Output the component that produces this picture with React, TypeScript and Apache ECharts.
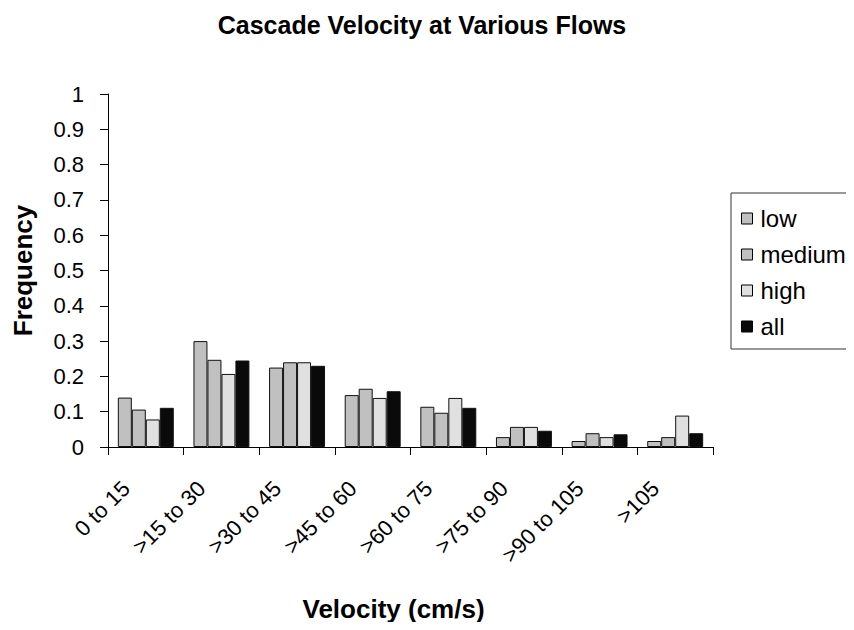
import React, { useEffect, useRef } from "react";
import * as echarts from "echarts";

const categories = ["0 to 15", ">15 to 30", ">30 to 45", ">45 to 60", ">60 to 75", ">75 to 90", ">90 to 105", ">105"];
const lowValues = [0.14, 0.3, 0.225, 0.147, 0.114, 0.028, 0.017, 0.017];
const mediumValues = [0.106, 0.247, 0.24, 0.165, 0.097, 0.057, 0.039, 0.028];
const highValues = [0.078, 0.207, 0.24, 0.139, 0.139, 0.057, 0.028, 0.089];
const allValues = [0.111, 0.245, 0.23, 0.158, 0.111, 0.046, 0.036, 0.039];
const seriesNames = ["low", "medium", "high", "all"];
const seriesColors = ["#c0c0c0", "#c0c0c0", "#e0e0e0", "#0a0a0a"];

const FONT = "'Liberation Sans', Arial, sans-serif";

export default function App() {
  const ref = useRef<HTMLDivElement>(null);
  useEffect(() => {
    if (!ref.current) return;
    const chart = echarts.init(ref.current, undefined, { renderer: "svg" });
    const data = [lowValues, mediumValues, highValues, allValues];
    chart.setOption({
      animation: false,
      backgroundColor: "#ffffff",
      textStyle: { fontFamily: FONT },
      title: {
        text: "Cascade Velocity at Various Flows",
        left: 422,
        textAlign: "center",
        top: 12,
        padding: 0,
        textStyle: { fontFamily: FONT, fontSize: 25, fontWeight: "bold", color: "#000" },
      },
      legend: {
        orient: "vertical",
        left: 731,
        top: 193,
        padding: [13, 60, 10, 10],
        itemGap: 11,
        itemWidth: 11,
        itemHeight: 11,
        borderColor: "#333",
        borderWidth: 1,
        icon: "rect",
        itemStyle: { borderColor: "#000", borderWidth: 1 },
        textStyle: { fontFamily: FONT, fontSize: 24, color: "#000", padding: [0, 0, 0, 3], lineHeight: 25 },
        data: seriesNames,
      },
      grid: { left: 108, right: 141, top: 94, bottom: 183, containLabel: false },
      xAxis: {
        type: "category",
        data: categories,
        name: "Velocity (cm/s)",
        nameLocation: "middle",
        nameGap: 149,
        nameTextStyle: { fontFamily: FONT, fontSize: 26, fontWeight: "bold", color: "#000", padding: [0, 34, 0, 0] },
        axisLine: { lineStyle: { color: "#000", width: 1 } },
        axisTick: { show: true, length: 8, lineStyle: { color: "#000" } },
        axisLabel: { rotate: 45, fontFamily: FONT, fontSize: 22, color: "#000", margin: 18, padding: [0, 28, 0, 0], interval: 0 },
      },
      yAxis: {
        type: "value",
        min: 0,
        max: 1,
        interval: 0.1,
        name: "Frequency",
        nameLocation: "middle",
        nameGap: 72,
        nameTextStyle: { fontFamily: FONT, fontSize: 26, fontWeight: "bold", color: "#000" },
        axisLine: { show: true, lineStyle: { color: "#000", width: 1 } },
        axisTick: { show: true, length: 8, lineStyle: { color: "#000" } },
        splitLine: { show: false },
        axisLabel: { fontFamily: FONT, fontSize: 22, color: "#000", margin: 24 },
      },
      series: seriesNames.map((name, i) => ({
        name,
        type: "bar",
        data: data[i],
        barGap: "0%",
        barCategoryGap: "26%",
        itemStyle: { color: seriesColors[i], borderColor: "#111", borderWidth: 1 },
      })),
    });
    return () => chart.dispose();
  }, []);
  return <div ref={ref} style={{ width: 854, height: 630, margin: -8 }} />;
}
